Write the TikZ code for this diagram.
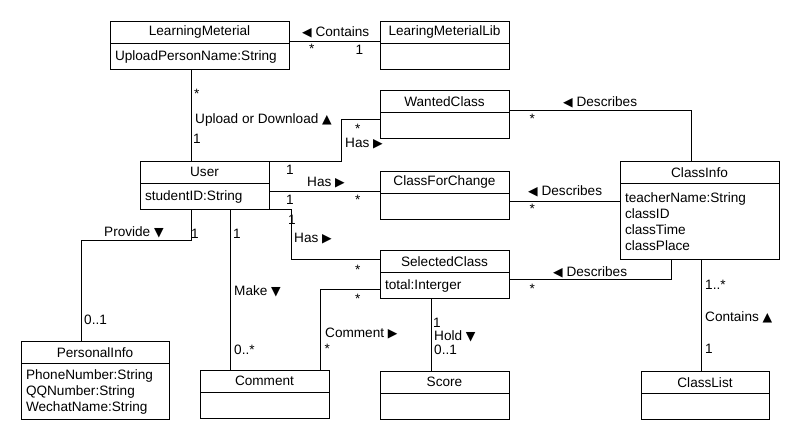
\documentclass[tikz,border=0pt]{standalone}
\usepackage{fontspec}
\setmainfont{Liberation Sans}
\newfontfamily\symfont{DejaVu Sans}
\usetikzlibrary{positioning}

\tikzstyle{classname} = [
rectangle,
draw=black,
line width=0.8pt,
outer sep=0pt,
inner sep=0pt,
minimum height=22.5pt,
anchor=north west,
font=\fontsize{13.6}{16}\selectfont
]
\tikzstyle{classattr} = [
rectangle,
draw=black,
line width=0.8pt,
outer sep=0pt,
inner xsep=5pt,
inner ysep=4pt,
minimum height=26pt,
align=left,
font=\fontsize{13.6}{16}\selectfont
]
\tikzstyle{assoc} = [
line width=0.8pt
]
\tikzstyle{lbl} = [
inner sep=0pt,
anchor=base west,
font=\fontsize{13.6}{16}\selectfont
]

\begin{document}
\begin{tikzpicture}[
x=1pt,
y=-1pt
]

\useasboundingbox (0,0) rectangle (810,440);

% classes
\node (material) [classname, minimum width=179pt] at (110,21) {LearningMeterial};
\node (materialbody) [classattr, text width=169pt, below=0pt of material] {UploadPersonName:String};

\node (library) [classname, minimum width=129pt] at (380,21) {LearingMeterialLib};
\node (librarybody) [classattr, text width=119pt, below=0pt of library] {};

\node (wanted) [classname, minimum width=129pt] at (380,90) {WantedClass};
\node (wantedbody) [classattr, text width=119pt, below=0pt of wanted] {};

\node (user) [classname, minimum width=129pt] at (140,161) {User};
\node (userbody) [classattr, text width=119pt, below=0pt of user] {studentID:String};

\node (change) [classname, minimum width=129pt] at (380,171) {ClassForChange};
\node (changebody) [classattr, text width=119pt, below=0pt of change] {};

\node (info) [classname, minimum width=159pt] at (620,161) {ClassInfo};
\node (infobody) [classattr, text width=149pt, minimum height=76pt, below=0pt of info]
{teacherName:String\\classID\\classTime\\classPlace};

\node (selected) [classname, minimum width=129pt] at (380,250) {SelectedClass};
\node (selectedbody) [classattr, text width=119pt, below=0pt of selected] {total:Interger};

\node (personal) [classname, minimum width=148pt] at (21,341) {PersonalInfo};
\node (personalbody) [classattr, text width=138pt, minimum height=56pt, below=0pt of personal]
{PhoneNumber:String\\QQNumber:String\\WechatName:String};

\node (comment) [classname, minimum width=129pt] at (200,370) {Comment};
\node (commentbody) [classattr, text width=119pt, below=0pt of comment] {};

\node (score) [classname, minimum width=129pt] at (380,371) {Score};
\node (scorebody) [classattr, text width=119pt, below=0pt of score] {};

\node (classlist) [classname, minimum width=128pt] at (641,371) {ClassList};
\node (classlistbody) [classattr, text width=118pt, below=0pt of classlist] {};

% associations
\draw [assoc] ([yshift=2pt]material.south east) -- ([yshift=2pt]library.south west);

\draw [assoc] ([xshift=81pt]materialbody.south west) -- ([xshift=81pt]materialbody.south west |- user.north);

\draw [assoc] (user.north east) -| ([xshift=-39pt,yshift=6pt]wantedbody.west) -- ([yshift=6pt]wantedbody.west);

\draw [assoc] ([yshift=5pt]userbody.east) -- ([yshift=5pt]userbody.east -| change.west);

\draw [assoc] (userbody.south east) -| ([xshift=-89pt,yshift=2pt]selected.west) -- ([yshift=2pt]selected.west);

\draw [assoc] ([xshift=51pt]userbody.south west) -- ++(0,31) -| ([xshift=60pt]personal.north west);

\draw [assoc] ([xshift=90pt]userbody.south west) -- ([xshift=90pt]userbody.south west |- comment.north);

\draw [assoc] ([xshift=120pt]comment.north west) |- ([yshift=-4pt]selectedbody.west);

\draw [assoc] ([xshift=51pt]selectedbody.south west) -- ([xshift=51pt]selectedbody.south west |- score.north);

\draw [assoc] ([yshift=2pt]wanted.south east) -| ([xshift=71pt]info.north west);

\draw [assoc] ([yshift=5pt]changebody.east) -- ([yshift=5pt]changebody.east -| infobody.west);

\draw [assoc] ([yshift=6pt]selectedbody.east) -| ([xshift=51pt]infobody.south west);

\draw [assoc] ([xshift=81pt]infobody.south west) -- ([xshift=81pt]infobody.south west |- classlist.north);

% labels
\node (containsname) [lbl] at (302,36) {{\symfont\fontsize{12.5}{16}\selectfont ◀} Contains};
\node (containsmany) [lbl] at (309,53.5) {*};
\node (containsone) [lbl] at (355.5,54) {1};

\node (uploadmany) [lbl] at (194,98.5) {*};
\node (uploadname) [lbl] at (195,123) {Upload or Download {\symfont\fontsize{12.5}{16}\selectfont ▲}};
\node (uploadone) [lbl] at (193,143) {1};

\node (wantedmany) [lbl] at (355,133.5) {*};
\node (wantedname) [lbl] at (345,147) {Has {\symfont\fontsize{12.5}{16}\selectfont ▶}};
\node (wantedone) [lbl] at (286,174) {1};

\node (changename) [lbl] at (307,186) {Has {\symfont\fontsize{12.5}{16}\selectfont ▶}};
\node (changeone) [lbl] at (286,204) {1};
\node (changemany) [lbl] at (355,204.5) {*};

\node (selectedone) [lbl] at (288,224) {1};
\node (selectedname) [lbl] at (294,242) {Has {\symfont\fontsize{12.5}{16}\selectfont ▶}};
\node (selectedmany) [lbl] at (355,274.5) {*};

\node (providename) [lbl] at (104,236) {Provide {\symfont\fontsize{12.5}{16}\selectfont ▼}};
\node (provideone) [lbl] at (191,238) {1};
\node (providezero) [lbl] at (84,324) {0..1};

\node (makeone) [lbl] at (233,238) {1};
\node (makename) [lbl] at (234,295) {Make {\symfont\fontsize{12.5}{16}\selectfont ▼}};
\node (makemany) [lbl] at (234,354) {0..*};

\node (commentmany) [lbl] at (355,303.5) {*};
\node (commentname) [lbl] at (325,337) {Comment {\symfont\fontsize{12.5}{16}\selectfont ▶}};
\node (commentmanyb) [lbl] at (324.5,353.5) {*};

\node (holdone) [lbl] at (433,327) {1};
\node (holdname) [lbl] at (434,340) {Hold {\symfont\fontsize{12.5}{16}\selectfont ▼}};
\node (holdzero) [lbl] at (434,354) {0..1};

\node (describesa) [lbl] at (563,106) {{\symfont\fontsize{12.5}{16}\selectfont ◀} Describes};
\node (describesamany) [lbl] at (529.5,123.5) {*};
\node (describesb) [lbl] at (528,195.5) {{\symfont\fontsize{12.5}{16}\selectfont ◀} Describes};
\node (describesbmany) [lbl] at (529.5,213.5) {*};
\node (describesc) [lbl] at (553,276.5) {{\symfont\fontsize{12.5}{16}\selectfont ◀} Describes};
\node (describescmany) [lbl] at (529.5,293.5) {*};

\node (listmany) [lbl] at (705,289) {1..*};
\node (listname) [lbl] at (705,321.5) {Contains {\symfont\fontsize{12.5}{16}\selectfont ▲}};
\node (listone) [lbl] at (705,353) {1};

\end{tikzpicture}
\end{document}
